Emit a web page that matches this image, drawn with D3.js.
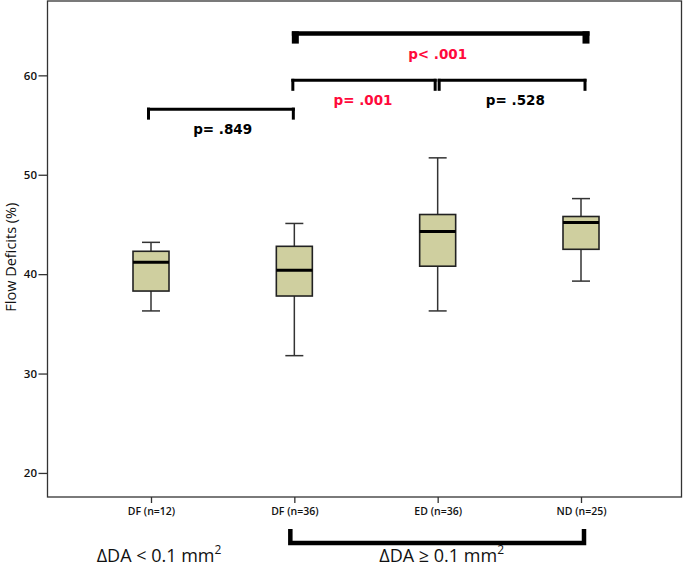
<!DOCTYPE html>
<html>
<head>
<meta charset="utf-8">
<script src="https://cdn.jsdelivr.net/npm/d3@7"></script>
<style>
  html, body { margin: 0; padding: 0; background: #fff; }
  svg { display: block; }
</style>
</head>
<body>
<script>
// ---- data ----
const categories = ["DF (n=12)", "DF (n=36)", "ED (n=36)", "ND (n=25)"];
const whiskerLow  = [36.3, 31.8, 36.3, 39.3];
const q1          = [38.3, 37.8, 40.8, 42.5];
const median      = [41.2, 40.4, 44.3, 45.2];
const q3          = [42.3, 42.8, 46.0, 45.8];
const whiskerHigh = [43.2, 45.1, 51.7, 47.6];
const yTicks = [20, 30, 40, 50, 60];
const yTitle = "Flow Deficits (%)";

// significance brackets
const bracketFrom  = [0, 1, 2, 1];
const bracketTo    = [1, 2, 3, 3];
const bracketLevel = [56.6, 59.5, 59.5, 64.2];
const bracketLabel = ["p= .849", "p= .001", "p= .528", "p< .001"];
const bracketSig   = [false, true, false, true];

// group labels below the axis
const groupLabels = ["ΔDA < 0.1 mm", "ΔDA ≥ 0.1 mm"];

// ---- layout ----
const W = 685, H = 567;
const plot = {left: 47.5, right: 681.5, top: 1, bottom: 497};
const svg = d3.select("body").append("svg").attr("width", W).attr("height", H);

const x = d3.scalePoint().domain(categories).range([151, 581]);
const y = d3.scaleLinear().domain([17.58, 67.48]).range([plot.bottom, plot.top]);

const boxes = categories.map((c, i) => ({
  cat: c, lo: whiskerLow[i], q1: q1[i], med: median[i], q3: q3[i], hi: whiskerHigh[i]
}));

// frame
svg.append("rect")
  .attr("x", plot.left).attr("y", plot.top)
  .attr("width", plot.right - plot.left).attr("height", plot.bottom - plot.top)
  .attr("fill", "none").attr("stroke", "#333").attr("stroke-width", 1.3);

// y axis
const yAxis = svg.append("g").attr("transform", `translate(${plot.left},0)`)
  .call(d3.axisLeft(y).tickValues(yTicks).tickSize(9).tickPadding(1.5));
yAxis.select(".domain").remove();
yAxis.selectAll("line").attr("stroke", "#333").attr("stroke-width", 1.3);
yAxis.selectAll("text").attr("font-family", "Open Sans").attr("font-size", 11.5)
  .attr("font-weight", 600).attr("fill", "#111");

// x axis
const xAxis = svg.append("g").attr("transform", `translate(0,${plot.bottom})`)
  .call(d3.axisBottom(x).tickSize(6).tickPadding(5));
xAxis.select(".domain").remove();
xAxis.selectAll("line").attr("stroke", "#333").attr("stroke-width", 1.3);
xAxis.selectAll("text").attr("font-family", "Open Sans").attr("font-size", 10.5)
  .attr("font-weight", 600).attr("fill", "#111");

// y title
svg.append("text")
  .attr("transform", `translate(16,${(y(30) + y(50)) / 2 - 17}) rotate(-90)`)
  .attr("text-anchor", "middle")
  .attr("font-family", "Open Sans").attr("font-size", 14.5).attr("fill", "#111")
  .text(yTitle);

// boxes
const boxW = 36, capW = 18;
const g = svg.append("g");
const bx = g.selectAll("g.box").data(boxes).join("g").attr("class", "box")
  .attr("transform", d => `translate(${x(d.cat)},0)`);
bx.append("line").attr("x1", 0).attr("x2", 0)
  .attr("y1", d => y(d.lo)).attr("y2", d => y(d.q1))
  .attr("stroke", "#333").attr("stroke-width", 1.5);
bx.append("line").attr("x1", 0).attr("x2", 0)
  .attr("y1", d => y(d.q3)).attr("y2", d => y(d.hi))
  .attr("stroke", "#333").attr("stroke-width", 1.5);
bx.append("line").attr("x1", -capW / 2).attr("x2", capW / 2)
  .attr("y1", d => y(d.lo)).attr("y2", d => y(d.lo))
  .attr("stroke", "#333").attr("stroke-width", 1.5);
bx.append("line").attr("x1", -capW / 2).attr("x2", capW / 2)
  .attr("y1", d => y(d.hi)).attr("y2", d => y(d.hi))
  .attr("stroke", "#333").attr("stroke-width", 1.5);
bx.append("rect").attr("x", -boxW / 2).attr("width", boxW)
  .attr("y", d => y(d.q3)).attr("height", d => y(d.q1) - y(d.q3))
  .attr("fill", "#cfcf9f").attr("stroke", "#222").attr("stroke-width", 1.6);
bx.append("line").attr("x1", -boxW / 2).attr("x2", boxW / 2)
  .attr("y1", d => y(d.med)).attr("y2", d => y(d.med))
  .attr("stroke", "#000").attr("stroke-width", 3);

// significance brackets
const red = "#ff0a3c";
bracketFrom.forEach((f, i) => {
  const isTop = i === 3;
  const thick = isTop ? 4.5 : 3;
  const legW = isTop ? 7 : 3;
  const legH = isTop ? 10 : 10.5;
  let x1 = x(categories[f]) - 1.5;
  let x2 = x(categories[bracketTo[i]]) + 4;
  if (i === 1) x2 = x(categories[bracketTo[i]]) - 2.5;
  if (i === 2) x1 = x(categories[f]) + 1.5;
  if (i === 0) { x1 = x(categories[f]) - 2.5; x2 = x(categories[bracketTo[i]]) - 1; }
  if (isTop) { x1 = x(categories[f]) + 1; x2 = x(categories[bracketTo[i]]) + 5; }
  const yy = y(bracketLevel[i]);
  const bg = svg.append("g");
  bg.append("line").attr("x1", x1 - legW / 2).attr("x2", x2 + legW / 2)
    .attr("y1", yy).attr("y2", yy).attr("stroke", "#000").attr("stroke-width", thick);
  [x1, x2].forEach(xx => {
    bg.append("line").attr("x1", xx).attr("x2", xx)
      .attr("y1", yy - thick / 2).attr("y2", yy + legH)
      .attr("stroke", "#000").attr("stroke-width", legW);
  });
  bg.append("text")
    .attr("x", (x(categories[f]) + x(categories[bracketTo[i]])) / 2 + (i === 2 ? 6 : i === 1 ? -3 : 0))
    .attr("y", yy + 25)
    .attr("text-anchor", "middle")
    .attr("font-family", "DejaVu Sans").attr("font-weight", "bold").attr("font-size", 13.5)
    .attr("fill", bracketSig[i] ? red : "#000")
    .text(bracketLabel[i]);
});

// group bracket below axis
const gb = svg.append("g");
const gbY = 543, gbX1 = x(categories[1]) - 4, gbX2 = x(categories[3]) + 3;
gb.append("path")
  .attr("d", `M${gbX1},529 V${gbY} H${gbX2} V529`)
  .attr("fill", "none").attr("stroke", "#000").attr("stroke-width", 4.5);

// group labels
const groupCenters = [x(categories[0]) + 8, (x(categories[1]) + x(categories[3])) / 2 + 4];
groupLabels.forEach((t, i) => {
  const tx = svg.append("text")
    .attr("x", groupCenters[i]).attr("y", 562)
    .attr("text-anchor", "middle")
    .attr("font-family", "Open Sans").attr("font-size", 18).attr("fill", "#111");
  tx.append("tspan").text(t);
  tx.append("tspan").attr("dy", -8).attr("font-size", 12).text("2");
});
</script>
</body>
</html>
